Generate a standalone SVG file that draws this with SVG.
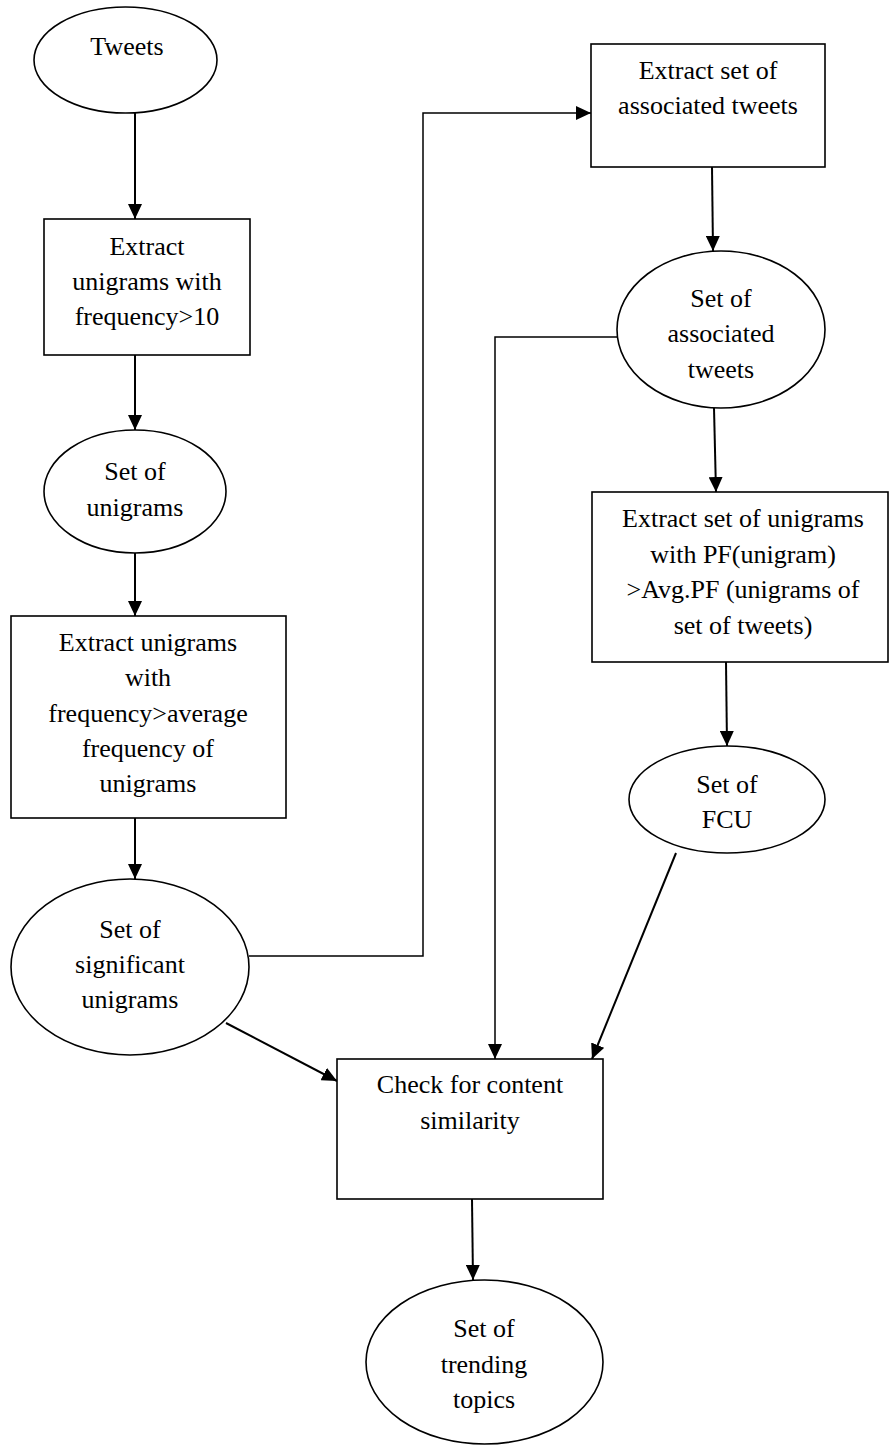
<svg xmlns="http://www.w3.org/2000/svg" width="889" height="1445" viewBox="0 0 889 1445">
  <style>
    .shape { fill: #ffffff; stroke: #000000; stroke-width: 1.6; }
    .label { font-family: "Liberation Serif", "Times New Roman", serif; font-size: 26px; fill: #000000; text-anchor: middle; }
    .flow { fill: none; stroke: #000000; stroke-width: 2; }
    .route { fill: none; stroke: #000000; stroke-width: 1.5; }
  </style>
  <defs>
    <marker id="arrow" markerUnits="userSpaceOnUse" markerWidth="15" markerHeight="14" refX="15" refY="7" orient="auto">
      <path d="M0,0 L15,7 L0,14 Z" fill="#000000"/>
    </marker>
  </defs>
  <rect width="889" height="1445" fill="#ffffff"/>

  <!-- connectors -->
  <g id="connectors">
    <line class="flow" x1="135" y1="113" x2="135" y2="219" marker-end="url(#arrow)"/>
    <line class="flow" x1="135" y1="355" x2="135" y2="430" marker-end="url(#arrow)"/>
    <line class="flow" x1="135" y1="553" x2="135" y2="616" marker-end="url(#arrow)"/>
    <line class="flow" x1="135" y1="818" x2="135" y2="879" marker-end="url(#arrow)"/>
    <polyline class="route" points="249,956 423,956 423,113 591,113" marker-end="url(#arrow)"/>
    <line class="flow" x1="712" y1="167" x2="713" y2="251" marker-end="url(#arrow)"/>
    <polyline class="route" points="617,337 495,337 495,1059" marker-end="url(#arrow)"/>
    <line class="flow" x1="714" y1="408" x2="716" y2="492" marker-end="url(#arrow)"/>
    <line class="flow" x1="726" y1="662" x2="727" y2="746" marker-end="url(#arrow)"/>
    <line class="flow" x1="676" y1="853" x2="592" y2="1059" marker-end="url(#arrow)"/>
    <line class="flow" x1="226" y1="1023" x2="337" y2="1081" marker-end="url(#arrow)"/>
    <line class="flow" x1="472" y1="1199" x2="473" y2="1280" marker-end="url(#arrow)"/>
  </g>

  <g id="tweets">
    <ellipse class="shape" cx="125.5" cy="60" rx="91.5" ry="53"/>
    <text class="label" x="127" y="55">Tweets</text>
  </g>

  <g id="extract-frequent">
    <rect class="shape" x="44" y="219" width="206" height="136"/>
    <text class="label" x="147" y="255">Extract</text>
    <text class="label" x="147" y="290">unigrams with</text>
    <text class="label" x="147" y="325">frequency&gt;10</text>
  </g>

  <g id="set-unigrams">
    <ellipse class="shape" cx="135" cy="491.5" rx="91" ry="61.5"/>
    <text class="label" x="135" y="480">Set of</text>
    <text class="label" x="135" y="516">unigrams</text>
  </g>

  <g id="extract-above-average">
    <rect class="shape" x="11" y="616" width="275" height="202"/>
    <text class="label" x="148" y="651">Extract unigrams</text>
    <text class="label" x="148" y="686">with</text>
    <text class="label" x="148" y="722">frequency&gt;average</text>
    <text class="label" x="148" y="757">frequency of</text>
    <text class="label" x="148" y="792">unigrams</text>
  </g>

  <g id="set-significant">
    <ellipse class="shape" cx="130" cy="967" rx="119" ry="88"/>
    <text class="label" x="130" y="938">Set of</text>
    <text class="label" x="130" y="973">significant</text>
    <text class="label" x="130" y="1008">unigrams</text>
  </g>

  <g id="extract-associated">
    <rect class="shape" x="591" y="44" width="234" height="123"/>
    <text class="label" x="708" y="79">Extract set of</text>
    <text class="label" x="708" y="114">associated tweets</text>
  </g>

  <g id="set-associated">
    <ellipse class="shape" cx="721" cy="329.5" rx="104" ry="78.5"/>
    <text class="label" x="721" y="307">Set of</text>
    <text class="label" x="721" y="342">associated</text>
    <text class="label" x="721" y="378">tweets</text>
  </g>

  <g id="extract-pf">
    <rect class="shape" x="592" y="492" width="296" height="170"/>
    <text class="label" x="743" y="527">Extract set of unigrams</text>
    <text class="label" x="743" y="563">with PF(unigram)</text>
    <text class="label" x="743" y="598">&gt;Avg.PF (unigrams of</text>
    <text class="label" x="743" y="634">set of tweets)</text>
  </g>

  <g id="set-fcu">
    <ellipse class="shape" cx="727" cy="799.5" rx="98" ry="53.5"/>
    <text class="label" x="727" y="793">Set of</text>
    <text class="label" x="727" y="828">FCU</text>
  </g>

  <g id="check-similarity">
    <rect class="shape" x="337" y="1059" width="266" height="140"/>
    <text class="label" x="470" y="1093">Check for content</text>
    <text class="label" x="470" y="1129">similarity</text>
  </g>

  <g id="set-trending">
    <ellipse class="shape" cx="484.5" cy="1362" rx="118.5" ry="82"/>
    <text class="label" x="484" y="1337">Set of</text>
    <text class="label" x="484" y="1373">trending</text>
    <text class="label" x="484" y="1408">topics</text>
  </g>
</svg>
